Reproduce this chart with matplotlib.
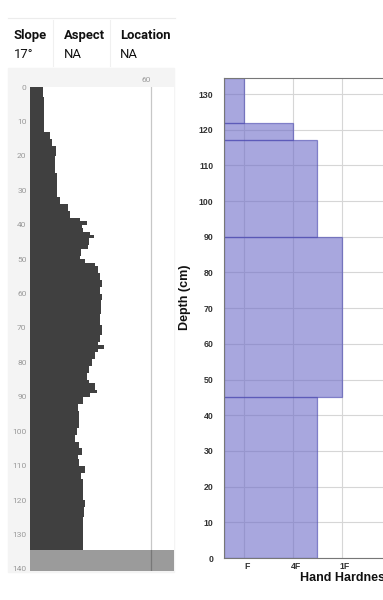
import matplotlib
matplotlib.use("Agg")
import matplotlib.pyplot as plt
import matplotlib.transforms as mtransforms
from matplotlib.patches import Rectangle
from matplotlib.lines import Line2D

W, H = 383, 600

# header table
header_names = ["Slope", "Aspect", "Location"]
header_values = ["17°", "NA", "NA"]

# penetrometer profile: segment tops (cm), final bottom, force per segment
profile_depth = [0, 3, 13, 15, 17, 20, 25, 32, 34, 36, 38, 39, 40, 41, 42, 43, 44, 46, 47, 49,
                 50, 51, 52, 54, 56, 58, 60, 62, 66, 69, 72, 74, 75, 76, 77, 79, 81, 83, 85, 86,
                 88, 89, 90, 92, 94, 99, 101, 103, 105, 107, 108, 110, 112, 114, 116, 120, 122, 125,
                 134.5]
profile_force = [6.3, 7.1, 9.9, 11.0, 12.9, 12.4, 13.2, 14.9, 19.0, 19.8, 24.8, 28.4, 25.6, 26.3,
                 29.7, 31.7, 29.3, 28.8, 25.1, 24.8, 27.2, 32.2, 33.8, 34.7, 35.5, 34.7, 35.5, 35.0,
                 34.7, 35.5, 34.7, 33.8, 36.6, 33.8, 32.2, 30.5, 29.3, 28.4, 29.3, 32.2, 33.0, 29.7,
                 26.3, 23.9, 24.4, 23.4, 22.3, 24.4, 25.6, 23.9, 24.4, 27.2, 25.1, 26.3, 26.3, 27.2,
                 26.7, 26.3]
snow_depth = 134.5
profile_max_depth = 140.6

# hand hardness layers (heights above ground, cm)
layer_bottom = [0, 45, 90, 117, 122]
layer_top = [45, 90, 117, 122, 134.5]
layer_hardness = [1.5, 2.0, 1.5, 1.0, 0.0]   # index on the F..I scale
hardness_labels = ["F", "4F", "1F", "P", "K", "I"]


def fx(px):
    return px / W


def fy(py):
    return 1 - py / H


fig = plt.figure(figsize=(W / 100, H / 100), dpi=100)
fig.patch.set_facecolor("white")

# ---- header table ----
fig.add_artist(Line2D([fx(8), fx(175)], [fy(18), fy(18)], color="#ececec", lw=0.8))
for xs in [53, 110]:
    fig.add_artist(Line2D([fx(xs), fx(xs)], [fy(20), fy(66)], color="#f0f0f0", lw=0.8))
for x0, name, val in zip([14, 64, 120], header_names, header_values):
    fig.text(fx(x0), fy(39), name, family="Roboto", weight="bold", fontsize=9.4,
             color="#111111", ha="left", va="baseline")
    fig.text(fx(x0), fy(58), val, family="Roboto", fontsize=9.4,
             color="#111111", ha="left", va="baseline")

# ---- penetrometer panel ----
fig.add_artist(Rectangle((fx(8), fy(572)), fx(174) - fx(8), (572 - 68) / H,
                         transform=fig.transFigure, color="#f4f4f4", zorder=0))
ax1 = fig.add_axes([fx(30), fy(571), fx(174) - fx(30), (571 - 87) / H])
ax1.set_facecolor("white")
ax1.fill_betweenx(profile_depth, 0, profile_force + [profile_force[-1]], step="post",
                  color="#404040", lw=0)
ax1.axhspan(snow_depth, profile_max_depth, color="#9b9b9b", lw=0)
ax1.axvline(60, color="black", alpha=0.22, lw=0.9)
ax1.set_xlim(0, 71.4)
ax1.set_ylim(profile_max_depth, 0)
ax1.set_yticks(range(0, 141, 10))
ax1.xaxis.tick_top()
ax1.set_xticks([60])
for t in ax1.get_xticklabels():
    t.set_horizontalalignment("right")
ax1.tick_params(axis="both", length=0, labelsize=6, labelcolor="#999999")
ax1.tick_params(axis="y", pad=2.5)
ax1.tick_params(axis="x", pad=3)
for t in ax1.get_xticklabels() + ax1.get_yticklabels():
    t.set_family("Roboto")
for s in ax1.spines.values():
    s.set_visible(False)

# ---- hand hardness panel ----
spacing = 48.7
x_left = -20 / spacing
x_right = 5 - x_left
ax2 = fig.add_axes([fx(224.3), fy(558), (x_right - x_left) * spacing / W, (558 - 78) / H])
ax2.set_xlim(x_left, x_right)
ax2.set_ylim(0, snow_depth)
ax2.set_axisbelow(True)
ax2.grid(True, color="#d6d6d6", lw=0.8)
heights = [t - b for t, b in zip(layer_top, layer_bottom)]
widths = [h - x_left for h in layer_hardness]
ax2.barh(layer_bottom, widths, height=heights, left=x_left, align="edge",
         color="#6e6cc8", alpha=0.6, edgecolor="#4a48b0", lw=0.9, zorder=2)
ax2.set_yticks(range(0, 131, 10))
ax2.set_xticks(range(len(hardness_labels)))
ax2.set_xticklabels(hardness_labels)
ax2.tick_params(axis="both", length=0, labelsize=6.3, labelcolor="#333333")
ax2.tick_params(axis="y", pad=8)
ax2.tick_params(axis="x", pad=3)
shift = mtransforms.ScaledTranslation(3 / 100, 0, fig.dpi_scale_trans)
for t in ax2.get_xticklabels():
    t.set_transform(t.get_transform() + shift)
for t in ax2.get_xticklabels() + ax2.get_yticklabels():
    t.set_family("Liberation Sans")
    t.set_weight("bold")
for s in ax2.spines.values():
    s.set_color("#777777")
    s.set_linewidth(0.8)

fig.text(fx(185), fy(297), "Depth (cm)", rotation=90, family="Liberation Sans",
         weight="bold", fontsize=9, color="#111111", ha="center", va="center")
fig.text(fx(300), fy(578), "Hand Hardness", family="Liberation Sans",
         weight="bold", fontsize=9, color="#111111", ha="left", va="center")

fig.savefig("out.png", dpi=100)
